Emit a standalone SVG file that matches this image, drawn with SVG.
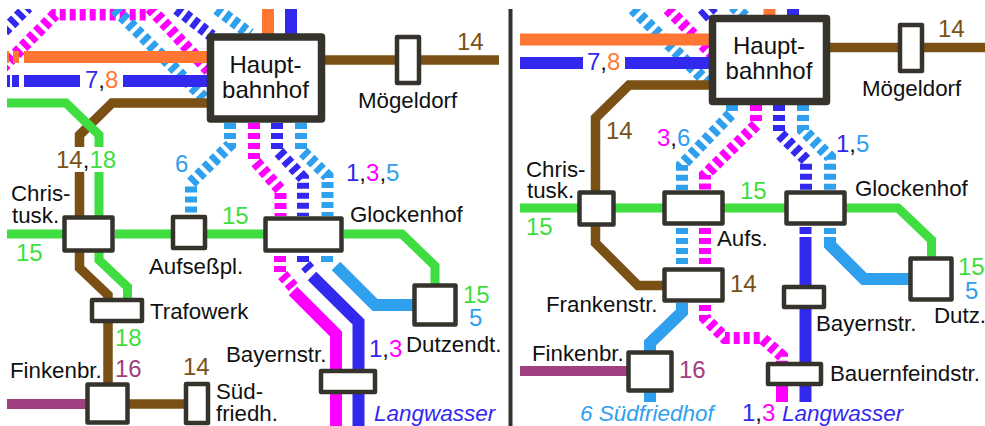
<svg xmlns="http://www.w3.org/2000/svg" width="985" height="426" viewBox="0 0 985 426">
<style>
.l{fill:none;stroke-linejoin:miter;stroke-linecap:butt}
.d{stroke-dasharray:6 4}
.or{stroke:#ff7733;stroke-width:12}
.bl{stroke:#3328ee;stroke-width:12}
.ma{stroke:#ff00ff;stroke-width:12}
.sk{stroke:#2fa0ee;stroke-width:12}
.gr{stroke:#40dd40;stroke-width:9}
.br{stroke:#7a5014;stroke-width:9.5}
.pl{stroke:#a04080;stroke-width:10}
.box{fill:#fff;stroke:#35332c;stroke-width:4.5;stroke-linejoin:round}
.hub{fill:#fff;stroke:#35332c;stroke-width:7.5;stroke-linejoin:round}
text{font-family:"Liberation Sans",Arial,sans-serif;font-size:22.3px;fill:#111}
.n{font-size:24px}
.i{font-style:italic;font-size:22.5px}
.hb{font-size:24px;text-anchor:middle}
.cO{fill:#ff7733}.cB{fill:#3328ee}.cM{fill:#ff00ff}.cS{fill:#2fa0ee}.cG{fill:#40dd40}.cR{fill:#7a5014}.cP{fill:#a04080}
</style>
<defs>
<clipPath id="cl"><rect x="7" y="9" width="495" height="417"/></clipPath>
<clipPath id="cr"><rect x="520" y="9" width="465" height="417"/></clipPath>
</defs>
<g id="connectors">
<g clip-path="url(#cl)">
<path class="l d bl" d="M4 31L28 7"/>
<path class="l d ma" d="M2 68L55 14.5H148"/>
<path class="l d ma" d="M150 8L212 74"/>
<path class="l d sk" d="M115 9L207 101"/>
<path class="l d bl" d="M177 9L212 36"/>
<path class="l d sk" d="M217 9L250 34"/>
<path class="l or" d="M7 57H9M13 57H19M24 57H210"/>
<path class="l bl" d="M7 81H10M12 81H19M24 81H80M123 81H210"/>
<path class="l or" d="M268 9V36"/>
<path class="l bl" d="M291 9V36"/>
<path class="l br" d="M210 103H112L79.500 135V147M79.500 172V217"/>
<path class="l gr" d="M7 103H66L99 135V147M99 172V217"/>
<path class="l br" d="M325 60H499"/>
<path class="l gr" d="M7 234H65M115 234H265M344 234H402L435 266V285"/>
<path class="l d sk" d="M230 123V145L191 183V216"/>
<path class="l d ma" d="M254 123V160L280.500 190V216"/>
<path class="l d bl" d="M277 123V150L303 178V216"/>
<path class="l d sk" d="M301 123V150L327.500 176V216"/>
<path class="l d ma" d="M280 256V272L294 288"/>
<path class="l ma" d="M293 291L336 334V426"/>
<path class="l d bl" d="M303 256V262L311 271"/>
<path class="l bl" d="M312 276L358.500 322V426"/>
<path class="l sk" d="M327 256V262"/>
<path class="l sk" d="M336 266L375 305H414"/>
<path class="l br" d="M79.500 252V268L108 295V385"/>
<path class="l gr" d="M99 252V260L127.500 287V300"/>
<path class="l pl" d="M7 404H87"/>
<path class="l br" d="M128 404H186"/>
</g>
<g clip-path="url(#cr)">
<path class="l d sk" d="M633 9L709 84"/>
<path class="l d ma" d="M668 9L714 56"/>
<path class="l d bl" d="M702 17L714 6"/>
<path class="l d sk" d="M733 6L758 28"/>
<path class="l or" d="M520 39.500H712"/>
<path class="l bl" d="M520 63H583M625 63H712"/>
<path class="l or" d="M769.500 9V18"/>
<path class="l bl" d="M793 9V18"/>
<path class="l br" d="M712 85H629L595.500 118V192"/>
<path class="l br" d="M828 47.500H985"/>
<path class="l gr" d="M520 208H898L931.500 240V258"/>
<path class="l d sk" d="M732 105V113L682 165V190"/>
<path class="l d ma" d="M756 105V125L705 175V190"/>
<path class="l d bl" d="M779 105V133L806 160V190"/>
<path class="l d sk" d="M803 105V130L830 157V190"/>
<path class="l d sk" d="M682 228V268"/>
<path class="l d ma" d="M705 228V268"/>
<path class="l bl" d="M805.500 227V234M805.500 237V402"/>
<path class="l sk" d="M830 228V234M830 237V245L864 279H910"/>
<path class="l br" d="M595.500 225V243L638 285.500H664"/>
<path class="l sk" d="M682 303V312L650 343V352M650 390V402"/>
<path class="l d ma" d="M705 305V318L725 338H762L782 356V364"/>
<path class="l ma" d="M782 384V402"/>
<path class="l pl" d="M520 371H628"/>
</g>
<path d="M510.500 9V426" fill="none" stroke="#35332c" stroke-width="4"/>
</g>
<g id="L-hauptbahnhof"><rect class="hub" x="210.500" y="37" width="111" height="82"/><text class="hb" x="265.500" y="73">Haupt-</text><text class="hb" x="265.500" y="98">bahnhof</text></g>
<g id="L-moegeldorf"><rect class="box" x="397" y="37" width="22" height="46"/><text x="358" y="108">Mögeldorf</text></g>
<g id="L-christusk"><rect class="box" x="64.500" y="217.500" width="48" height="33"/><text x="11" y="201">Chris-</text><text x="12" y="223">tusk.</text></g>
<g id="L-aufsess"><rect class="box" x="173" y="217" width="32" height="31"/><text x="149" y="274">Aufseßpl.</text></g>
<g id="L-glockenhof"><rect class="box" x="265.500" y="218.500" width="76" height="32"/><text x="350" y="222">Glockenhof</text></g>
<g id="L-dutzendt"><rect class="box" x="414.500" y="285.500" width="41" height="39"/><text x="406" y="352">Dutzendt.</text></g>
<g id="L-trafowerk"><rect class="box" x="92" y="300" width="50" height="21"/><text x="150" y="319">Trafowerk</text></g>
<g id="L-finkenbr"><rect class="box" x="87.500" y="384.500" width="40" height="38"/><text x="10" y="378">Finkenbr.</text></g>
<g id="L-suedfriedh"><rect class="box" x="186" y="384" width="22" height="39"/><text x="216" y="399">Süd-</text><text x="216" y="421">friedh.</text></g>
<g id="L-bayernstr"><rect class="box" x="321" y="371" width="54" height="21"/><text x="226" y="362">Bayernstr.</text></g>
<g id="R-hauptbahnhof"><rect class="hub" x="712.500" y="18.500" width="114" height="83"/><text class="hb" x="769" y="54">Haupt-</text><text class="hb" x="769" y="79">bahnhof</text></g>
<g id="R-moegeldorf"><rect class="box" x="900" y="25" width="22" height="46"/><text x="862" y="96">Mögeldorf</text></g>
<g id="R-christusk"><rect class="box" x="579.500" y="192.500" width="34" height="32"/><text x="526" y="177">Chris-</text><text x="527" y="198">tusk.</text></g>
<g id="R-aufs"><rect class="box" x="664.500" y="192.500" width="58" height="31"/><text x="717" y="246">Aufs.</text></g>
<g id="R-glockenhof"><rect class="box" x="786.500" y="192.500" width="58" height="31"/><text x="855" y="196">Glockenhof</text></g>
<g id="R-frankenstr"><rect class="box" x="664.500" y="269.500" width="58" height="31"/><text x="546" y="312">Frankenstr.</text></g>
<g id="R-finkenbr"><rect class="box" x="628.500" y="352.500" width="43" height="38"/><text x="532" y="361">Finkenbr.</text></g>
<g id="R-dutz"><rect class="box" x="910.500" y="258.500" width="41" height="41"/><text x="934" y="323">Dutz.</text></g>
<g id="R-bayernstr"><rect class="box" x="784" y="287" width="40" height="20"/><text x="816" y="331">Bayernstr.</text></g>
<g id="R-bauernfeindstr"><rect class="box" x="768" y="364" width="53" height="20"/><text x="830" y="381">Bauernfeindstr.</text></g>
<g id="line-labels">
<text class="n cR" x="457" y="50">14</text>
<text class="n" x="85" y="88"><tspan class="cB">7</tspan>,<tspan class="cO">8</tspan></text>
<text class="n" x="56" y="168"><tspan class="cR">14</tspan>,<tspan class="cG">18</tspan></text>
<text class="n cS" x="175" y="172">6</text>
<text class="n cG" x="222" y="224">15</text>
<text class="n cG" x="16" y="261">15</text>
<text class="n cG" x="115" y="346">18</text>
<text class="n cP" x="115" y="377">16</text>
<text class="n cR" x="183" y="375">14</text>
<text class="n" x="346" y="181"><tspan class="cB">1</tspan>,<tspan class="cM">3</tspan>,<tspan class="cS">5</tspan></text>
<text class="n cG" x="463" y="303">15</text>
<text class="n cS" x="469" y="326">5</text>
<text class="n" x="369" y="357"><tspan class="cB">1</tspan>,<tspan class="cM">3</tspan></text>
<text class="i cB" x="374" y="421">Langwasser</text>
<text class="n cR" x="938" y="37">14</text>
<text class="n" x="587" y="70"><tspan class="cB">7</tspan>,<tspan class="cO">8</tspan></text>
<text class="n cR" x="606" y="139">14</text>
<text class="n" x="657" y="146"><tspan class="cM">3</tspan>,<tspan class="cS">6</tspan></text>
<text class="n" x="836" y="152"><tspan class="cB">1</tspan>,<tspan class="cS">5</tspan></text>
<text class="n cG" x="740" y="199">15</text>
<text class="n cG" x="526" y="235">15</text>
<text class="n cR" x="730" y="292">14</text>
<text class="n cP" x="679" y="378">16</text>
<text class="n cG" x="958" y="275">15</text>
<text class="n cS" x="965" y="299">5</text>
<text class="i cS" x="580" y="421">6 Südfriedhof</text>
<text class="n" x="742" y="421"><tspan class="cB">1</tspan>,<tspan class="cM">3</tspan></text>
<text class="i cB" x="782" y="421">Langwasser</text>
</g>
</svg>
